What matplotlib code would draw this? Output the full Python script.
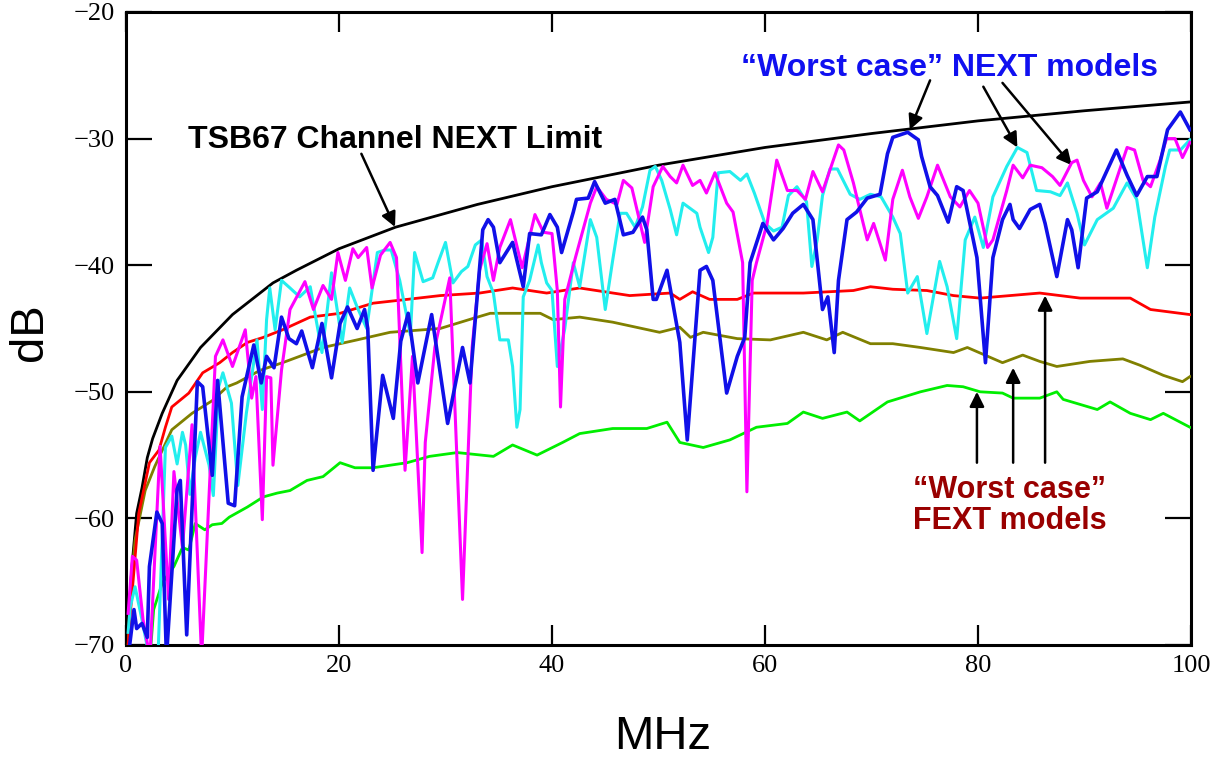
import matplotlib
matplotlib.use("Agg")
import matplotlib.pyplot as plt
from matplotlib.ticker import FixedLocator, FuncFormatter

# ---------------- data (MHz, dB) ----------------
limit_f = [0.1, 0.26, 0.56, 1.0, 1.5, 2.0, 2.5, 3.4, 4.8, 7.0, 10.0, 13.8, 16.0, 20.0, 25.3,
           33.0, 40.0, 50.0, 60.0, 70.0, 80.0, 90.0, 100.0]
limit_db = [-70, -67.5, -63.8, -59.6, -57.6, -55.2, -53.7, -51.7, -49.1, -46.5, -43.9, -41.4,
            -40.4, -38.7, -37.0, -35.2, -33.8, -32.1, -30.7, -29.6, -28.6, -27.8, -27.1]

red_f = [0.2, 0.38, 1.2, 2.2, 3.1, 3.7, 4.3, 5.9, 7.2, 8.8, 10, 11.4, 12.9, 14.7, 17.3, 20.1,
         23.2, 26.4, 29.5, 33.2, 36.3, 39.5, 42.6, 47.3, 51.1, 52, 53.2, 54.8, 57.4, 58.9, 63.6,
         68.3, 69.9, 72, 75.2, 77.7, 80.2, 83, 85.8, 89.6, 94.3, 96.2, 99.9]
red_db = [-70, -67.8, -59.6, -55.6, -54.6, -52.8, -51.2, -50.1, -48.5, -47.7, -46.9, -46.1,
          -45.7, -45.1, -44.1, -43.8, -43.0, -42.7, -42.4, -42.2, -41.8, -42.2, -41.8, -42.4,
          -42.2, -42.7, -42.1, -42.7, -42.7, -42.2, -42.2, -42.0, -41.7, -41.9, -42.0, -42.4,
          -42.6, -42.4, -42.2, -42.6, -42.6, -43.5, -43.9]

olive_f = [0.2, 0.4, 0.85, 1.8, 2.7, 4.3, 6.2, 8.1, 9.5, 10.4, 12.6, 14.7, 16.3, 18.5, 21.7,
           24.8, 29.5, 32.6, 34.2, 36.3, 38.9, 40.1, 42.6, 45.7, 50.1, 52, 53, 54.2, 57.4, 60.5,
           63.6, 65.8, 67.3, 69.9, 72, 74.6, 77.7, 79, 82.3, 84.2, 85.8, 87.4, 90.5, 93.6, 95.2,
           97.4, 99.2, 99.9]
olive_db = [-70, -66, -61.7, -57.8, -55.9, -53.0, -51.7, -50.7, -49.6, -49.3, -48.3, -47.7,
            -47.2, -46.5, -45.9, -45.3, -45.0, -44.2, -43.8, -43.8, -43.8, -44.3, -44.1, -44.5,
            -45.3, -44.9, -45.7, -45.3, -45.8, -45.9, -45.3, -45.9, -45.3, -46.2, -46.2, -46.5,
            -46.9, -46.5, -47.7, -47.1, -47.6, -48.0, -47.6, -47.4, -47.9, -48.7, -49.2, -48.8]

green_f = [2.3, 2.6, 3.4, 4.5, 5.3, 5.9, 6.5, 7.4, 8.1, 9.0, 9.7, 11.4, 12.9, 14.2, 15.4, 17.0,
           18.5, 20.1, 21.5, 23.2, 26.4, 28.5, 31.1, 34.5, 36.3, 38.6, 41.0, 42.6, 45.7, 48.9,
           50.8, 52.0, 54.2, 56.7, 59.2, 62.1, 63.6, 65.4, 67.7, 68.9, 71.5, 74.6, 77.1, 78.6,
           80.2, 82.3, 83.3, 85.8, 87.4, 88.0, 91.2, 92.4, 94.3, 96.2, 97.4, 99.9]
green_db = [-70.5, -67.2, -65.1, -63.8, -62.3, -62.5, -60.4, -60.9, -60.5, -60.4, -59.9, -59.1,
            -58.3, -58.0, -57.8, -57.0, -56.7, -55.6, -56.0, -56.0, -55.6, -55.1, -54.8, -55.1,
            -54.2, -55.0, -54.0, -53.3, -52.9, -52.9, -52.4, -54.0, -54.4, -53.8, -52.8, -52.5,
            -51.6, -52.1, -51.6, -52.3, -50.8, -50.0, -49.5, -49.6, -50.0, -50.1, -50.5, -50.5,
            -50.0, -50.6, -51.4, -50.8, -51.7, -52.2, -51.7, -52.8]

blue_f = [0.2, 0.75, 1.0, 1.5, 2.0, 2.2, 2.9, 3.4, 3.8, 4.8, 5.1, 5.7, 6.7, 7.2, 8.1, 8.6, 9.6,
          10.2, 10.9, 12.0, 12.7, 13.2, 13.9, 14.6, 15.3, 16.0, 16.5, 17.5, 18.4, 19.3, 20.1,
          20.8, 21.7, 22.4, 22.7, 23.2, 24.1, 25.1, 25.8, 26.5, 27.4, 28.7, 30.2, 31.6, 32.3,
          33.5, 34.0, 34.5, 35.1, 36.3, 37.3, 37.9, 39.0, 39.8, 40.5, 40.9, 42.0, 42.3, 43.4,
          44.0, 45.0, 45.9, 46.7, 47.6, 48.5, 48.9, 49.5, 49.8, 50.8, 52.0, 52.7, 53.9, 54.5,
          55.1, 56.4, 57.4, 58.1, 58.6, 59.8, 60.8, 61.7, 62.6, 63.6, 64.5, 65.4, 65.9, 66.5,
          66.9, 67.7, 68.6, 69.6, 70.8, 71.5, 72.0, 73.4, 74.4, 74.7, 75.5, 76.2, 77.2, 78.0,
          78.6, 79.9, 80.7, 81.4, 82.3, 83.0, 83.3, 83.9, 84.9, 85.8, 86.3, 87.4, 88.4, 88.8,
          89.4, 90.2, 91.2, 93.0, 94.0, 94.9, 95.9, 96.8, 97.8, 99.0, 99.9]
blue_db = [-71, -67.2, -68.7, -68.3, -69.4, -63.8, -59.5, -60.4, -71, -57.7, -57.0, -69.2,
           -49.2, -49.6, -56.6, -49.1, -58.8, -59.0, -50.4, -46.3, -49.3, -47.2, -48.1, -44.1,
           -45.8, -46.2, -45.2, -48.1, -44.6, -48.9, -44.6, -43.3, -45.0, -43.5, -45.0, -56.2,
           -48.7, -52.1, -46.0, -43.8, -49.3, -43.9, -52.5, -46.5, -49.3, -37.2, -36.4, -37.0,
           -39.8, -38.2, -41.7, -37.5, -37.6, -36.0, -37.0, -39.0, -35.8, -34.8, -34.7, -33.4,
           -35.1, -34.8, -37.6, -37.4, -36.2, -37.2, -42.7, -42.7, -40.4, -46.1, -53.8, -40.4,
           -40.1, -41.2, -50.1, -47.2, -45.7, -39.8, -36.7, -38.0, -37.1, -35.9, -35.2, -36.4,
           -43.5, -42.5, -46.9, -41.2, -36.4, -35.8, -34.7, -34.4, -31.2, -29.9, -29.5, -30.1,
           -31.4, -33.8, -34.5, -36.6, -33.8, -34.1, -39.4, -47.7, -39.4, -36.4, -35.2, -36.4,
           -37.1, -35.6, -35.2, -36.7, -40.9, -36.4, -37.2, -40.2, -34.7, -34.2, -30.9, -32.9,
           -34.5, -33.0, -33.0, -29.3, -27.9, -29.3]

magenta_f = [0.2, 0.6, 1.0, 1.6, 2.25, 3.2, 4.0, 4.5, 5.3, 6.2, 7.1, 8.4, 9.1, 10.0, 11.2, 11.8,
             12.2, 12.8, 13.2, 13.6, 13.8, 14.6, 15.4, 16.8, 17.6, 18.5, 19.3, 19.9, 20.6, 21.3,
             21.8, 22.6, 23.1, 23.9, 24.8, 25.4, 26.2, 26.9, 27.8, 28.1, 29.0, 30.4, 31.6, 32.5,
             33.2, 33.9, 34.5, 35.1, 36.1, 37.2, 38.4, 39.2, 40.0, 40.5, 40.8, 41.2, 42.2, 43.6,
             44.2, 45.1, 46.1, 46.7, 47.5, 48.7, 49.5, 50.4, 51.1, 51.7, 52.3, 53.2, 53.9, 54.5,
             55.3, 56.4, 57.0, 57.9, 58.3, 58.8, 59.2, 60.2, 61.1, 62.1, 63.0, 63.8, 64.5, 65.4,
             66.9, 67.4, 68.3, 68.9, 69.6, 70.2, 71.3, 72.0, 72.9, 73.6, 74.4, 75.2, 76.2, 77.4,
             78.3, 79.2, 80.0, 80.9, 81.4, 82.7, 83.3, 84.2, 84.9, 86.0, 87.0, 87.7, 88.8, 89.3,
             89.9, 90.7, 91.5, 92.1, 94.0, 94.7, 95.5, 96.2, 97.1, 97.7, 98.5, 99.2, 99.9]
magenta_db = [-67.5, -63.0, -63.3, -68.0, -71, -54.3, -66.4, -56.3, -62.3, -52.6, -71, -47.2,
              -45.9, -48.0, -45.1, -50.5, -48.8, -60.1, -48.8, -48.9, -55.8, -48.3, -43.5, -41.3,
              -43.5, -41.6, -42.7, -39.0, -41.2, -38.7, -39.4, -38.6, -41.8, -39.2, -38.2, -39.4,
              -56.2, -47.2, -62.7, -54.0, -46.5, -41.0, -66.4, -46.5, -40.4, -38.3, -41.2, -38.6,
              -36.4, -40.2, -36.0, -37.4, -37.5, -42.0, -51.2, -42.7, -39.4, -35.1, -33.8, -34.8,
              -35.2, -33.3, -33.9, -38.2, -33.8, -32.2, -33.0, -33.5, -32.1, -33.7, -33.3, -34.3,
              -32.7, -35.1, -35.8, -39.8, -57.9, -41.2, -39.8, -36.7, -31.7, -34.1, -34.1, -34.8,
              -32.6, -34.2, -30.5, -30.9, -33.5, -35.6, -38.0, -36.7, -39.6, -34.8, -32.5, -34.6,
              -36.3, -34.6, -32.1, -34.6, -35.4, -34.1, -35.1, -38.6, -38.0, -34.1, -32.1, -33.1,
              -32.1, -32.3, -33.0, -33.7, -31.9, -31.7, -33.3, -34.6, -33.5, -35.5, -30.7, -30.9,
              -33.3, -33.8, -31.7, -30.0, -30.0, -31.5, -30.3]

cyan_f = [0.2, 0.4, 0.85, 1.5, 2.2, 3.0, 3.7, 4.3, 4.8, 5.3, 5.6, 6.0, 6.5, 7.0, 7.8, 8.2, 8.7,
          9.1, 9.9, 10.5, 11.3, 12.3, 12.8, 13.2, 13.5, 14.0, 14.6, 15.4, 16.3, 17.3, 18.4, 18.9,
          19.3, 20.3, 21.0, 21.7, 22.6, 23.6, 24.3, 24.9, 25.7, 26.7, 27.1, 27.9, 28.8, 29.3,
          30.0, 30.7, 31.5, 32.1, 32.8, 33.4, 33.9, 34.5, 35.1, 35.9, 36.3, 36.7, 37.0, 37.3,
          37.9, 38.7, 39.0, 39.5, 40.0, 40.5, 41.2, 42.0, 42.6, 43.6, 44.2, 45.0, 45.7, 46.4,
          47.0, 47.8, 48.5, 49.2, 49.7, 50.3, 51.1, 51.7, 52.3, 53.6, 53.9, 54.7, 55.1, 55.6,
          56.7, 57.7, 58.3, 59.0, 60.0, 60.8, 61.6, 62.2, 63.0, 63.9, 64.4, 64.9, 65.4, 66.1,
          66.8, 68.0, 68.9, 69.9, 70.9, 72.0, 72.7, 73.4, 74.3, 75.2, 76.4, 77.1, 78.0, 78.8,
          79.7, 80.5, 81.4, 82.7, 83.7, 84.6, 85.5, 86.8, 87.7, 88.4, 89.3, 90.0, 91.2, 92.7,
          94.0, 94.9, 95.9, 96.6, 97.6, 98.0, 99.0, 99.9]
cyan_db = [-69, -67, -65.4, -68.0, -71, -71, -54.4, -53.5, -55.7, -53.2, -54.2, -58.1, -55.2,
           -53.2, -55.8, -58.2, -49.6, -48.5, -50.9, -57.4, -51.7, -45.9, -51.4, -44.3, -41.8,
           -45.1, -41.2, -41.8, -42.5, -41.7, -46.9, -43.5, -40.6, -46.1, -41.8, -43.3, -45.0,
           -39.0, -38.8, -38.8, -41.2, -45.5, -39.0, -41.3, -41.0, -39.8, -38.2, -41.4, -40.5,
           -40.1, -38.4, -38.0, -40.9, -42.2, -45.9, -45.9, -48.0, -52.8, -51.4, -42.5, -41.2,
           -38.4, -39.8, -41.4, -42.0, -48.0, -45.0, -39.8, -41.7, -36.4, -37.8, -43.5, -39.6,
           -35.9, -35.9, -37.0, -35.4, -32.5, -32.2, -33.3, -35.6, -37.6, -35.1, -35.9, -37.0,
           -39.0, -37.8, -32.7, -32.6, -33.3, -32.8, -34.3, -36.7, -37.3, -37.0, -34.5, -33.8,
           -35.0, -40.1, -38.0, -34.5, -32.4, -32.4, -34.4, -34.8, -34.4, -34.6, -36.2, -37.5,
           -42.2, -40.9, -45.4, -39.7, -41.7, -45.8, -38.0, -36.2, -38.6, -34.6, -32.2, -30.7,
           -31.1, -34.1, -34.2, -34.5, -33.5, -35.9, -38.4, -36.4, -35.5, -33.5, -34.8, -40.2,
           -36.2, -32.2, -30.9, -30.9, -30.1]

x_ticks = [0, 20, 40, 60, 80, 100]
y_ticks = [-70, -60, -50, -40, -30, -20]

# ---------------- figure ----------------
plt.rcParams['font.family'] = ['Liberation Sans', 'DejaVu Sans']
fig = plt.figure(figsize=(12.16, 7.61), dpi=100)
ax = fig.add_axes([126 / 1216, 1 - 645 / 761, (1191 - 126) / 1216, (645 - 12) / 761])

ax.plot(limit_f, limit_db, color='black', lw=2.0, zorder=3)
ax.plot(green_f, green_db, color='#00ee00', lw=2.0, zorder=3)
ax.plot(olive_f, olive_db, color='#808000', lw=2.0, zorder=3)
ax.plot(red_f, red_db, color='#ff0000', lw=2.0, zorder=3)
ax.plot(cyan_f, cyan_db, color='#22eeee', lw=2.2, zorder=4)
ax.plot(magenta_f, magenta_db, color='#ff00ff', lw=2.2, zorder=4)
ax.plot(blue_f, blue_db, color='#1010e8', lw=2.6, zorder=5)

ax.set_xlim(0, 100)
ax.set_ylim(-70, -20)
ax.xaxis.set_major_locator(FixedLocator(x_ticks))
ax.yaxis.set_major_locator(FixedLocator(y_ticks))
ax.yaxis.set_major_formatter(FuncFormatter(lambda v, p: '\u2212%d' % abs(v)))
ax.tick_params(axis='x', direction='in', length=14.5, width=1.6, top=True, bottom=True,
               labelsize=19, pad=7)
ax.tick_params(axis='y', direction='in', length=18.5, width=1.6, left=True, right=True,
               labelsize=19, pad=8)
for lab in ax.get_xticklabels() + ax.get_yticklabels():
    lab.set_fontfamily(['Liberation Serif', 'DejaVu Serif'])
for s in ax.spines.values():
    s.set_linewidth(2.2)

fig.text(663 / 1216, 1 - 737 / 761, 'MHz', fontsize=34, ha='center', va='center')
fig.text(30 / 1216, 1 - 332 / 761, 'dB', fontsize=34, ha='center', va='center', rotation=90)

arrow = dict(arrowstyle='-|>', color='black', lw=1.8, mutation_scale=22, shrinkA=0, shrinkB=0)

ax.text(25.3, -30.1, 'TSB67 Channel NEXT Limit', fontsize=23, fontweight='bold',
        ha='center', va='center', color='black')
ax.annotate('', xy=(25.26, -36.98), xytext=(22.1, -31.2), arrowprops=arrow)

ax.text(77.3, -24.4, '\u201cWorst case\u201d NEXT models', fontsize=23, fontweight='bold',
        ha='center', va='center', color='#1010f0')
ax.annotate('', xy=(73.6, -29.3), xytext=(75.5, -25.4), arrowprops=arrow)
ax.annotate('', xy=(83.7, -30.7), xytext=(80.5, -25.9), arrowprops=arrow)
ax.annotate('', xy=(88.8, -32.1), xytext=(82.3, -25.6), arrowprops=arrow)

ax.text(83.0, -59.0, '\u201cWorst case\u201d\nFEXT models', fontsize=22, fontweight='bold',
        ha='center', va='center', color='#990000', linespacing=1.05)
ax.annotate('', xy=(79.9, -50.0), xytext=(79.9, -55.6), arrowprops=arrow)
ax.annotate('', xy=(83.3, -48.1), xytext=(83.3, -55.6), arrowprops=arrow)
ax.annotate('', xy=(86.3, -42.4), xytext=(86.3, -55.6), arrowprops=arrow)

fig.savefig('out.png', dpi=100)
